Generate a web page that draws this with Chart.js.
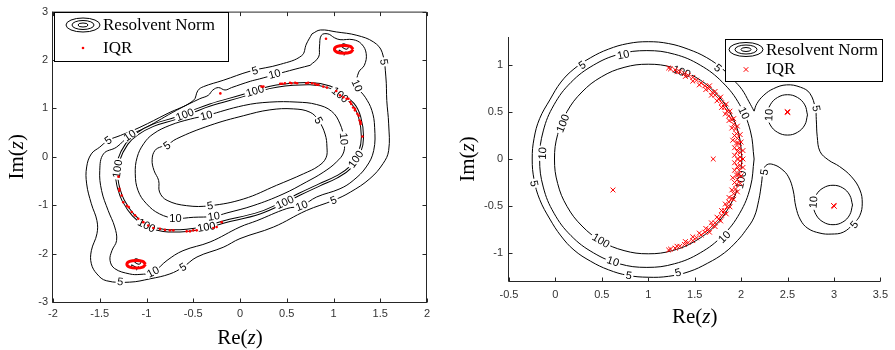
<!DOCTYPE html>
<html>
<head>
<meta charset="utf-8">
<script src="https://cdn.jsdelivr.net/npm/chart.js@4.4.0/dist/chart.umd.min.js"></script>
<style>
  body { margin: 0; background: #fff; }
  #wrap { position: relative; width: 895px; height: 350px; }
  canvas { position: absolute; top: 0; }
</style>
</head>
<body>
<div id="wrap">
  <canvas id="left" width="445" height="350" style="left:0"></canvas>
  <canvas id="right" width="450" height="350" style="left:445px"></canvas>
</div>
<script>
// ---- left panel: contour levels of the resolvent norm ----
const leftOuter5 = [[0.77,2.54],[0.86,2.62],[1.03,2.58],[1.25,2.51],[1.43,2.37],[1.52,2.16],[1.56,1.65],[1.57,1.16],[1.59,0.68],[1.59,0.13],[1.53,-0.14],[1.39,-0.45],[1.18,-0.73],[1.0,-0.9],[0.71,-1.11],[0.36,-1.45],[0.0,-1.69],[-0.18,-1.87],[-0.46,-2.07],[-0.61,-2.28],[-0.75,-2.42],[-0.96,-2.52],[-1.18,-2.59],[-1.43,-2.56],[-1.53,-2.42],[-1.59,-2.21],[-1.59,-1.94],[-1.53,-1.59],[-1.53,-1.32],[-1.59,-0.97],[-1.64,-0.56],[-1.64,-0.21],[-1.59,0.06],[-1.50,0.20],[-1.41,0.34],[-1.28,0.44],[-1.07,0.61],[-0.78,0.89],[-0.50,1.16],[-0.45,1.37],[-0.39,1.45],[-0.18,1.58],[0.11,1.77],[0.43,1.91],[0.66,2.09],[0.71,2.33],[0.77,2.54]];
const leftOuter10 = [[0.75,1.89],[0.84,2.06],[0.85,2.27],[0.87,2.51],[0.94,2.54],[1.01,2.46],[1.07,2.42],[1.21,2.42],[1.30,2.33],[1.35,2.13],[1.33,1.89],[1.27,1.75],[1.25,1.47],[1.34,1.23],[1.41,0.96],[1.44,0.61],[1.43,0.13],[1.35,-0.21],[1.21,-0.49],[1.07,-0.66],[0.82,-0.83],[0.66,-1.01],[0.50,-1.07],[0.18,-1.32],[0.0,-1.45],[-0.32,-1.76],[-0.61,-1.94],[-0.78,-2.14],[-0.93,-2.38],[-1.07,-2.43],[-1.18,-2.42],[-1.34,-2.31],[-1.39,-2.14],[-1.37,-1.94],[-1.32,-1.73],[-1.34,-1.45],[-1.41,-1.11],[-1.48,-0.70],[-1.50,-0.28],[-1.46,0.06],[-1.32,0.20],[-1.18,0.44],[-1.0,0.61],[-0.68,0.96],[-0.43,1.20],[-0.34,1.27],[-0.29,1.38],[-0.23,1.43],[-0.16,1.38],[-0.09,1.43],[0.11,1.56],[0.21,1.61],[0.53,1.78],[0.75,1.89]];
const left100 = [[-1.32,-0.42],[-1.30,-0.08],[-1.21,0.27],[-1.10,0.47],[-0.93,0.65],[-0.68,0.80],[-0.50,0.94],[-0.32,1.07],[0.04,1.27],[0.16,1.35],[0.39,1.46],[0.75,1.51],[0.96,1.44],[1.07,1.30],[1.21,1.09],[1.28,0.82],[1.31,0.41],[1.28,0.10],[1.18,-0.22],[1.03,-0.42],[0.85,-0.58],[0.63,-0.78],[0.48,-0.93],[0.21,-1.16],[-0.18,-1.35],[-0.36,-1.45],[-0.57,-1.52],[-0.82,-1.52],[-1.0,-1.42],[-1.14,-1.21],[-1.25,-0.90],[-1.30,-0.63],[-1.32,-0.42]];
const leftInner10 = [[-0.36,0.85],[0.04,1.06],[0.32,1.13],[0.61,1.13],[0.82,1.08],[0.98,0.94],[1.07,0.68],[1.11,0.37],[1.11,0.10],[1.03,-0.11],[0.89,-0.32],[0.71,-0.52],[0.46,-0.77],[0.14,-1.01],[-0.14,-1.16],[-0.28,-1.23],[-0.50,-1.25],[-0.69,-1.27],[-0.86,-1.18],[-1.0,-0.97],[-1.09,-0.70],[-1.12,-0.35],[-1.10,-0.01],[-1.03,0.27],[-0.93,0.47],[-0.75,0.65],[-0.53,0.78],[-0.36,0.85]];
const leftInner5 = [[-0.78,0.23],[-0.68,0.37],[-0.32,0.65],[0.04,0.85],[0.32,0.97],[0.57,0.99],[0.75,0.92],[0.84,0.75],[0.91,0.47],[0.93,0.20],[0.92,-0.02],[0.84,-0.19],[0.68,-0.35],[0.39,-0.59],[0.04,-0.87],[-0.32,-1.01],[-0.57,-1.01],[-0.78,-0.90],[-0.86,-0.73],[-0.87,-0.49],[-0.92,-0.28],[-0.94,-0.06],[-0.91,0.13],[-0.84,0.21],[-0.78,0.23]];
const leftRingA = [[1.21,2.22],[1.18,2.28],[1.11,2.30],[1.04,2.28],[1.01,2.22],[1.04,2.16],[1.11,2.14],[1.18,2.16],[1.21,2.22]];
const leftRingB = [[-1.01,-2.22],[-1.04,-2.16],[-1.11,-2.14],[-1.18,-2.16],[-1.21,-2.22],[-1.18,-2.28],[-1.11,-2.30],[-1.04,-2.28],[-1.01,-2.22]];
const leftIQR = [[0.23,1.45],[0.25,1.45],[0.43,1.51],[0.45,1.51],[0.48,1.52],[0.535,1.53],[0.55,1.52],[0.59,1.53],[0.61,1.52],[0.71,1.52],[0.73,1.53],[0.77,1.52],[0.80,1.51],[0.82,1.49],[0.84,1.49],[0.89,1.45],[0.93,1.43],[1.03,1.36],[1.07,1.27],[1.105,1.23],[1.14,1.20],[1.16,1.20],[1.18,1.13],[1.19,1.09],[1.21,1.02],[1.23,0.96],[1.23,0.99],[1.255,0.89],[1.27,0.85],[1.28,0.75],[1.29,0.72],[1.29,0.68],[1.31,0.42],
  [-1.30,-0.41],[-1.29,-0.66],[-1.29,-0.70],[-1.265,-0.80],[-1.248,-0.94],[-1.21,-1.01],[-1.19,-1.04],[-1.158,-1.14],[-1.123,-1.21],[-1.088,-1.28],[-1.034,-1.35],[-0.981,-1.42],[-0.927,-1.47],[-0.856,-1.49],[-0.802,-1.51],[-0.749,-1.52],[-0.713,-1.52],[-0.57,-1.54],[-0.535,-1.54],[-0.50,-1.52],[-0.463,-1.52],[-0.285,-1.47],[-0.25,-1.45],
  [-0.21,1.31],[0.92,2.44],[-0.196,-1.35]];
// [x, y, rotation in degrees, level]
const leftLabels = [[0.16,1.78,-16,'5'],[0.37,1.71,-16,'10'],[1.54,1.96,81,'5'],[1.25,1.47,66,'10'],[1.07,1.28,40,'100'],[0.84,0.75,60,'5'],[1.11,0.37,85,'10'],[1.24,-0.05,-55,'100'],[1.0,-0.9,-22,'5'],[0.66,-1.01,-21,'10'],[0.48,-0.94,-25,'100'],[-0.32,-1.01,-11,'5'],[-0.28,-1.23,-8,'10'],[-0.69,-1.27,0,'10'],[-0.36,-1.45,-10,'100'],[-1.0,-1.42,27,'100'],[-0.93,-2.38,-28,'10'],[-0.61,-2.28,-32,'5'],[-1.28,-2.58,8,'5'],[-1.31,-0.25,-82,'100'],[-1.41,0.34,-35,'5'],[-1.18,0.44,-34,'10'],[-0.59,0.87,-21,'100'],[-0.36,0.85,-14,'10'],[-0.78,0.23,-35,'5'],[0.16,1.36,-17,'100'],[1.11,2.22,-60,'10'],[-1.11,-2.22,-60,'10']];

// ---- right panel ----
const right100 = [[2.01,0],[1.976,0.261],[1.875,0.505],[1.714,0.714],[1.505,0.875],[1.261,0.976],[1.0,1.01],[0.739,0.976],[0.495,0.875],[0.286,0.714],[0.125,0.505],[0.024,0.261],[-0.01,0],[0.024,-0.261],[0.125,-0.505],[0.286,-0.714],[0.495,-0.875],[0.739,-0.976],[1.0,-1.01],[1.261,-0.976],[1.505,-0.875],[1.714,-0.714],[1.875,-0.505],[1.976,-0.261],[2.01,0]];
const right10 = [[2.14,0],[2.10,0.299],[1.985,0.578],[1.80,0.817],[1.56,1.0],[1.284,1.116],[0.985,1.155],[0.686,1.116],[0.41,1.0],[0.168,0.817],[-0.015,0.578],[-0.131,0.299],[-0.17,0],[-0.131,-0.299],[-0.015,-0.578],[0.168,-0.817],[0.41,-1.0],[0.686,-1.116],[0.985,-1.155],[1.284,-1.116],[1.56,-1.0],[1.80,-0.817],[1.985,-0.578],[2.10,-0.299],[2.14,0]];
const right10a = [[2.715,0.47],[2.686,0.577],[2.607,0.656],[2.5,0.685],[2.393,0.656],[2.314,0.577],[2.285,0.47],[2.314,0.363],[2.393,0.284],[2.5,0.255],[2.607,0.284],[2.686,0.363],[2.715,0.47]];
const right10b = [[3.20,-0.49],[3.17,-0.385],[3.095,-0.308],[2.99,-0.28],[2.885,-0.308],[2.808,-0.385],[2.78,-0.49],[2.808,-0.595],[2.885,-0.672],[2.99,-0.70],[3.095,-0.672],[3.17,-0.595],[3.20,-0.49]];
const right5 = [[2.14,0.51],[2.085,0.61],[2.01,0.74],[1.92,0.84],[1.80,0.96],[1.63,1.08],[1.43,1.17],[1.22,1.23],[1.0,1.25],[0.78,1.23],[0.57,1.17],[0.38,1.08],[0.20,0.96],[0.06,0.82],[-0.06,0.63],[-0.17,0.43],[-0.23,0.22],[-0.25,0],[-0.23,-0.22],[-0.17,-0.43],[-0.06,-0.64],[0.06,-0.82],[0.20,-0.97],[0.38,-1.09],[0.57,-1.18],[0.78,-1.24],[1.0,-1.26],[1.22,-1.25],[1.44,-1.20],[1.64,-1.11],[1.82,-1.00],[1.96,-0.87],[2.05,-0.76],[2.14,-0.62],[2.19,-0.44],[2.22,-0.26],[2.24,-0.12],[2.28,-0.06],[2.35,-0.06],[2.44,-0.11],[2.51,-0.19],[2.56,-0.33],[2.59,-0.51],[2.64,-0.65],[2.72,-0.74],[2.85,-0.79],[2.97,-0.80],[3.10,-0.78],[3.21,-0.69],[3.28,-0.60],[3.305,-0.47],[3.28,-0.33],[3.19,-0.19],[3.06,-0.08],[2.94,-0.01],[2.85,0.08],[2.82,0.24],[2.81,0.42],[2.80,0.54],[2.74,0.70],[2.64,0.765],[2.49,0.79],[2.35,0.75],[2.245,0.68],[2.17,0.59],[2.14,0.51]];
const rightIQR = [[1.22,0.97],[1.24,0.96],[1.29,0.95],[1.34,0.93],[1.39,0.91],[1.43,0.89],[1.48,0.87],[1.52,0.84],[1.57,0.81],[1.61,0.78],[1.65,0.75],[1.69,0.71],[1.72,0.68],[1.76,0.64],[1.79,0.60],[1.82,0.55],[1.85,0.51],[1.87,0.46],[1.90,0.42],[1.92,0.37],[1.94,0.32],[1.95,0.27],[1.96,0.22],[1.97,0.17],[1.98,0.12],[1.99,0.07],[1.99,0.02],
  [1.99,-0.02],[1.99,-0.07],[1.98,-0.12],[1.97,-0.17],[1.96,-0.22],[1.95,-0.27],[1.94,-0.32],[1.92,-0.37],[1.90,-0.42],[1.87,-0.46],[1.85,-0.51],[1.82,-0.55],[1.79,-0.60],[1.76,-0.64],[1.72,-0.68],[1.69,-0.71],[1.65,-0.75],[1.61,-0.78],[1.57,-0.81],[1.52,-0.84],[1.48,-0.87],[1.43,-0.89],[1.39,-0.91],[1.34,-0.93],[1.29,-0.95],[1.24,-0.96],[1.22,-0.97],
  [1.31,0.93],[1.40,0.88],[1.48,0.83],[1.55,0.79],[1.62,0.74],[1.68,0.68],[1.74,0.62],[1.79,0.55],[1.83,0.48],[1.87,0.41],[1.90,0.33],[1.93,0.25],[1.95,0.17],[1.96,0.08],[1.96,0.0],[1.96,-0.08],[1.95,-0.17],[1.93,-0.25],[1.90,-0.33],[1.87,-0.41],[1.83,-0.48],[1.79,-0.55],[1.74,-0.62],[1.68,-0.68],[1.62,-0.74],[1.55,-0.79],[1.48,-0.83],[1.40,-0.88],[1.31,-0.93],
  [1.66,0.78],[1.72,0.72],[1.78,0.66],[1.84,0.585],[1.88,0.51],[1.92,0.43],[1.96,0.35],[1.99,0.26],[2.00,0.18],[2.02,0.09],[2.02,0.0],[2.02,-0.09],[2.00,-0.18],[1.99,-0.26],[1.96,-0.35],[1.92,-0.43],[1.88,-0.51],[1.84,-0.585],[1.78,-0.66],[1.72,-0.72],[1.66,-0.78],
  [1.93,0.12],[1.93,0.04],[1.93,-0.04],[1.93,-0.12],[1.91,-0.2],[1.91,0.2],
  [0.62,-0.33],[1.70,0.0],[2.5,0.5],[2.503,0.497],[2.497,0.503],[3.0,-0.5],[3.003,-0.503],[2.997,-0.497]];
const rightLabels = [[0.73,1.11,-12,'10'],[0.29,1.0,-35,'5'],[1.75,0.97,40,'5'],[1.36,0.93,21,'100'],[0.08,0.38,-68,'100'],[-0.14,0.06,-87,'10'],[-0.23,-0.26,78,'5'],[2.03,0.49,65,'10'],[2.0,-0.22,-78,'100'],[2.25,-0.14,-80,'5'],[1.82,-0.83,-45,'10'],[0.49,-0.87,30,'100'],[0.62,-1.09,18,'10'],[0.79,-1.24,9,'5'],[1.32,-1.21,-15,'5'],[2.30,0.47,-88,'10'],[2.81,0.54,80,'5'],[2.78,-0.46,-86,'10'],[3.22,-0.70,-50,'5']];

const pts = a => a.map(p => ({ x: p[0], y: p[1] }));
const line = (a, w, c) => ({ data: pts(a), showLine: true, borderColor: c || '#000', borderWidth: w || 1, pointRadius: 0, tension: 0.4, fill: false });
const TICK_FONT = { family: '"Liberation Sans", Arial, sans-serif', size: 11 };
const fmt = v => String(Math.round(v * 10) / 10);

function ellipse(ctx, x, y, rx, ry) {
  ctx.beginPath();
  ctx.ellipse(x, y, rx, ry, 0, 0, Math.PI * 2);
  ctx.stroke();
}

function mathTitle(ctx, cx, cy, rot, fn) {
  const n = '21px "Liberation Serif", serif', it = 'italic 21px "Liberation Serif", serif';
  const parts = [[fn + '(', n], ['z', it], [')', n]];
  ctx.save();
  ctx.translate(cx, cy);
  ctx.rotate(rot);
  ctx.textBaseline = 'middle';
  ctx.textAlign = 'left';
  ctx.fillStyle = '#000';
  let w = 0;
  parts.forEach(p => { ctx.font = p[1]; w += ctx.measureText(p[0]).width; });
  let x = -w / 2;
  parts.forEach(p => { ctx.font = p[1]; ctx.fillText(p[0], x, 0); x += ctx.measureText(p[0]).width; });
  ctx.restore();
}

// contour labels, axis frame, inward ticks, legend, axis titles
const deco = {
  id: 'deco',
  afterDatasetDraw(chart, args, o) {
    if (args.index !== o.labelsAfter) return;
    const { ctx, scales: { x, y } } = chart;
    ctx.save();
    ctx.textAlign = 'center';
    ctx.textBaseline = 'middle';
    o.labels.forEach(([vx, vy, ang, t]) => {
      ctx.font = '11px "Liberation Sans", Arial, sans-serif';
      const w = ctx.measureText(t).width;
      ctx.save();
      ctx.translate(x.getPixelForValue(vx), y.getPixelForValue(vy));
      ctx.rotate(ang * Math.PI / 180);
      ctx.fillStyle = '#fff';
      ctx.fillRect(-w / 2 - 1.5, -4, w + 3, 8);
      ctx.fillStyle = '#000';
      ctx.fillText(t, 0, 0.5);
      ctx.restore();
    });
    ctx.restore();
  },
  afterDraw(chart, args, o) {
    const { ctx, chartArea: a, scales: { x, y } } = chart;
    ctx.save();
    ctx.strokeStyle = '#262626';
    ctx.lineWidth = 1;
    ctx.beginPath();
    const L = a.left - 0.5, B = a.bottom + 0.5, T = a.top + 0.5, R = a.right - 0.5;
    ctx.moveTo(L, T - 0.5); ctx.lineTo(L, B); ctx.lineTo(R + 0.5, B);
    if (o.box) { ctx.moveTo(L, T); ctx.lineTo(R, T); ctx.lineTo(R, B); }
    x.ticks.forEach(t => {
      const p = Math.round(x.getPixelForValue(t.value)) + 0.5;
      ctx.moveTo(p, B); ctx.lineTo(p, B - 4);
      if (o.box) { ctx.moveTo(p, T); ctx.lineTo(p, T + 4); }
    });
    y.ticks.forEach(t => {
      const p = Math.round(y.getPixelForValue(t.value)) + 0.5;
      ctx.moveTo(L, p); ctx.lineTo(L + 4, p);
      if (o.box) { ctx.moveTo(R, p); ctx.lineTo(R - 4, p); }
    });
    ctx.stroke();

    // legend
    const g = o.legend;
    ctx.fillStyle = '#fff';
    ctx.fillRect(g.x0, g.y0, g.x1 - g.x0, g.y1 - g.y0);
    ctx.strokeStyle = '#000';
    ctx.strokeRect(g.x0 + 0.5, g.y0 + 0.5, g.x1 - g.x0, g.y1 - g.y0);
    ctx.lineWidth = 1;
    ellipse(ctx, g.ix, g.iy, 17, 7);
    ellipse(ctx, g.ix, g.iy, 11, 4.5);
    ellipse(ctx, g.ix, g.iy, 5, 2);
    ctx.fillStyle = '#000';
    ctx.font = '17px "Liberation Serif", serif';
    ctx.textAlign = 'left';
    ctx.textBaseline = 'alphabetic';
    ctx.fillText('Resolvent Norm', g.tx, g.b1);
    ctx.fillText('IQR', g.tx, g.b2);
    if (g.mark === 'dot') {
      ctx.fillStyle = '#f00';
      ctx.beginPath(); ctx.arc(g.ix, g.my, 1.3, 0, Math.PI * 2); ctx.fill();
    } else {
      ctx.strokeStyle = '#f00';
      ctx.beginPath();
      ctx.moveTo(g.ix - 2.3, g.my - 2.3); ctx.lineTo(g.ix + 2.3, g.my + 2.3);
      ctx.moveTo(g.ix - 2.3, g.my + 2.3); ctx.lineTo(g.ix + 2.3, g.my - 2.3);
      ctx.stroke();
    }
    ctx.restore();

    mathTitle(ctx, (a.left + a.right) / 2, a.bottom + 36, 0, 'Re');
    mathTitle(ctx, a.left - o.ytitle, (a.top + a.bottom) / 2, -Math.PI / 2, 'Im');
  }
};

function scales(xr, yr, xStep, yStep, xPad, yPad, xH, yW) {
  const common = {
    type: 'linear',
    grid: { display: false, drawTicks: false },
    border: { display: false }
  };
  return {
    x: Object.assign({}, common, {
      min: xr[0], max: xr[1],
      ticks: { stepSize: xStep, padding: xPad, font: TICK_FONT, color: '#333', callback: fmt, includeBounds: false, maxRotation: 0 },
      afterFit: s => { s.height = xH; }
    }),
    y: Object.assign({}, common, {
      min: yr[0], max: yr[1],
      ticks: { stepSize: yStep, padding: yPad, font: TICK_FONT, color: '#333', callback: fmt, includeBounds: false },
      afterFit: s => { s.width = yW; }
    })
  };
}

new Chart(document.getElementById('left'), {
  type: 'scatter',
  data: {
    datasets: [
      { data: pts(leftIQR), pointRadius: 1.3, pointBackgroundColor: '#f00', pointBorderWidth: 0 },
      line(leftRingA, 3, '#f00'),
      line(leftRingB, 3, '#f00'),
      line(left100, 1.2, '#fff'),
      line(left100, 3.2),
      line(leftOuter5),
      line(leftOuter10),
      line(leftInner10),
      line(leftInner5)
    ]
  },
  options: {
    responsive: false,
    animation: false,
    layout: { padding: { top: 11, right: 18, left: 0, bottom: 0 } },
    scales: scales([-2, 2], [-3, 3], 0.5, 1, 5, 5, 48, 53),
    plugins: {
      legend: { display: false },
      tooltip: { enabled: false },
      deco: {
        box: true, labelsAfter: 3, labels: leftLabels, ytitle: 36,
        legend: { x0: 54, y0: 12, x1: 228, y1: 61, ix: 83, iy: 25, tx: 103, b1: 29.5, b2: 52.5, my: 48, mark: 'dot' }
      }
    }
  },
  plugins: [deco]
});

new Chart(document.getElementById('right'), {
  type: 'scatter',
  data: {
    datasets: [
      { data: pts(rightIQR), pointStyle: 'crossRot', pointRadius: 3.4, borderColor: '#f00', pointBorderWidth: 1 },
      line(right100),
      line(right10),
      line(right10a),
      line(right10b),
      line(right5)
    ]
  },
  options: {
    responsive: false,
    animation: false,
    layout: { padding: { top: 37, right: 11, left: 0, bottom: 0 } },
    scales: scales([-0.5, 3.5], [-1.3, 1.3], 0.5, 0.5, 7, 6, 69, 64),
    plugins: {
      legend: { display: false },
      tooltip: { enabled: false },
      deco: {
        box: false, labelsAfter: 1, labels: rightLabels, ytitle: 41,
        legend: { x0: 280, y0: 39, x1: 437, y1: 81, ix: 301, iy: 49.5, tx: 321, b1: 54.5, b2: 74, my: 69.5, mark: 'x' }
      }
    }
  },
  plugins: [deco]
});
</script>
</body>
</html>
